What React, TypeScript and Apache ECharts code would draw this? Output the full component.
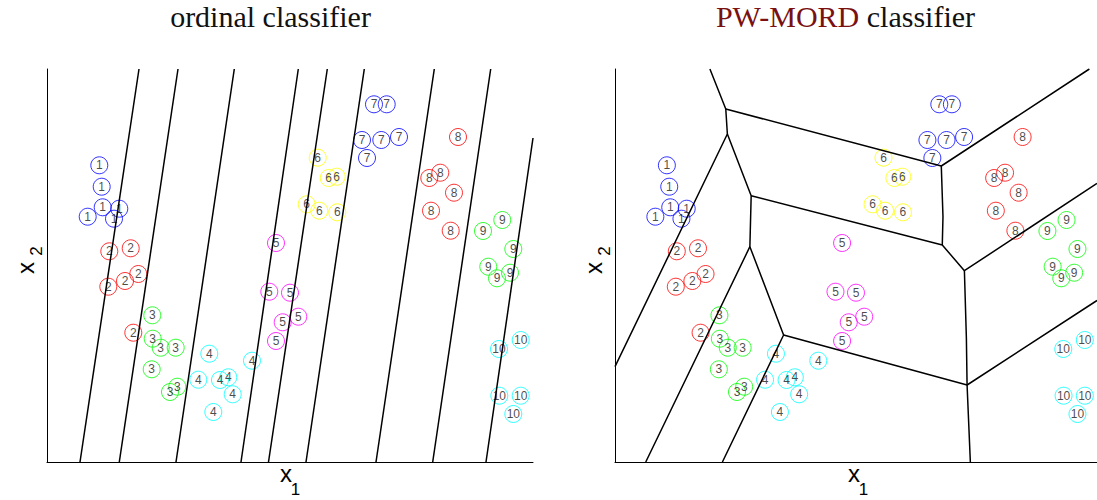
import React, { useEffect, useRef } from "react";
import * as echarts from "echarts";

// Feature space extent (both panels share the same units)
const X_MAX = 486;
const Y_MAX = 393;

// Training samples, one array per ordinal class: [x1, x2]
const class1 = [[52.3, 296.7], [54.7, 275.3], [55.7, 254.7], [40.7, 245.3], [72.3, 253.3], [67, 243.3]];
const class2 = [[62.3, 210.7], [83.7, 213.7], [61.3, 175.3], [78, 181], [91.3, 188], [86.3, 129.3]];
const class3 = [[105.3, 146.7], [105.7, 123.3], [113.7, 114.3], [128.7, 114.3], [104.7, 92.7], [130.3, 75.3], [123, 70]];
const class4 = [[162.3, 108.3], [205, 101.3], [151.3, 82.3], [173, 82], [181.3, 84.7], [185.7, 67.7], [166.3, 50]];
const class5 = [[229, 219], [222.3, 170.3], [243, 169.3], [251.3, 145.3], [235.7, 139.7], [229, 121]];
const class6 = [[270.7, 304.3], [281.7, 284], [289.7, 285.3], [259.7, 257.7], [272.3, 251.3], [290.3, 249.7]];
const class7 = [[327, 357.7], [339.7, 357.7], [315, 322], [334.3, 322], [352, 325], [320, 304]];
const class8 = [[411, 325], [393.3, 289.3], [382.3, 284], [407, 269.3], [384, 251.3], [403.7, 231.3]];
const class9 = [[455.3, 242], [436, 231], [466.3, 213], [441.3, 195.3], [450, 183.7], [463, 189.3]];
const class10 = [[473.7, 122], [452, 113], [452.3, 66.3], [473.7, 66.3], [466.3, 48]];

const classes = [class1, class2, class3, class4, class5, class6, class7, class8, class9, class10];
const classLabels = ["1", "2", "3", "4", "5", "6", "7", "8", "9", "10"];
const classColors = ["#0000ff", "#ff0000", "#00ff00", "#00ffff", "#ff00ff", "#ffff00", "#0000ff", "#ff0000", "#00ff00", "#00ffff"];

// Ordinal classifier: parallel threshold boundaries
const ordinalBoundaries = [
  [[33, 0], [92, 393]],
  [[72.3, 0], [131, 393]],
  [[129, 0], [187.3, 393]],
  [[194, 0], [251.3, 393]],
  [[221.5, 0], [280.3, 393]],
  [[259, 0], [317.3, 393]],
  [[329, 0], [387.3, 393]],
  [[385.7, 0], [443.7, 393]],
  [[439, 0], [486, 324]],
];

// PW-MORD piecewise boundary vertices
const vT1 = [95.7, 393];
const vA = [111.7, 353];
const vC = [113.3, 328];
const vL1 = [0, 95.3];
const vD = [137.3, 266.3];
const vF = [136, 215.3];
const vB1 = [31, 0];
const vG = [170, 127];
const vB2 = [108.3, 0];
const vH = [355, 77];
const vI = [352.3, 191.3];
const vImid = [354.3, 123.7];
const vB3 = [358.3, 0];
const vRH = [486, 161.5];
const vE = [330, 217];
const vRI = [486, 278.6];
const vB = [329, 296];
const vBmid = [330.7, 245.3];
const vTR = [478.3, 393];

const pwmordBoundaries = [
  [vT1, vA, vC, vL1],
  [vA, vB, vTR],
  [vB, vBmid, vE],
  [vC, vD, vF, vB1],
  [vD, vE, vI, vRI],
  [vF, vG, vB2],
  [vG, vH, vRH],
  [vI, vImid, vH, vB3],
];

function axisPair(gridIndex: number) {
  const base = {
    gridIndex,
    type: "value" as const,
    min: 0,
    axisLine: { show: true, onZero: false, lineStyle: { color: "#000", width: 1 } },
    axisTick: { show: false },
    axisLabel: { show: false },
    splitLine: { show: false },
  };
  return {
    x: { ...base, max: X_MAX },
    y: { ...base, max: Y_MAX },
  };
}

function scatterSeries(gridIndex: number) {
  return classes.map((pts, i) => ({
    type: "scatter",
    xAxisIndex: gridIndex,
    yAxisIndex: gridIndex,
    data: pts,
    symbol: "circle",
    symbolSize: 17,
    silent: true,
    itemStyle: { color: "rgba(255,255,255,0)", borderColor: classColors[i], borderWidth: 1 },
    label: {
      show: true,
      position: "inside",
      formatter: classLabels[i],
      color: "#1a1a1a",
      fontSize: 12,
      fontFamily: "Liberation Sans, Arial, sans-serif",
    },
    z: 2,
  }));
}

function boundarySeries(gridIndex: number, polylines: number[][][]) {
  return polylines.map((pl) => ({
    type: "line",
    xAxisIndex: gridIndex,
    yAxisIndex: gridIndex,
    data: pl,
    symbol: "none",
    silent: true,
    lineStyle: { color: "#000", width: 1.5 },
    z: 3,
  }));
}

const serif = "Liberation Serif, Times New Roman, serif";
const sans = "Liberation Sans, Arial, sans-serif";

function centered(text: string, font: string) {
  return { text, font, fill: "#000", align: "center", verticalAlign: "middle", textAlign: "center", textVerticalAlign: "middle" };
}

function axisNames(offsetX: number) {
  return [
    { type: "text", x: 286 + offsetX, y: 473, style: centered("x", `24px ${sans}`) },
    { type: "text", x: 295.5 + offsetX, y: 489, style: centered("1", `17px ${sans}`) },
    { type: "text", x: 25 + offsetX, y: 268, rotation: Math.PI / 2, style: centered("x", `24px ${sans}`) },
    { type: "text", x: 36 + offsetX, y: 251, rotation: Math.PI / 2, style: centered("2", `17px ${sans}`) },
  ];
}

export default function App() {
  const ref = useRef<HTMLDivElement>(null);

  useEffect(() => {
    if (!ref.current) return;
    const chart = echarts.init(ref.current, undefined, { renderer: "svg" });
    const a0 = axisPair(0);
    const a1 = axisPair(1);
    chart.setOption({
      animation: false,
      backgroundColor: "#fff",
      grid: [
        { left: 47, top: 69, width: 486, height: 393 },
        { left: 615, top: 69, width: 486, height: 393 },
      ],
      xAxis: [a0.x, a1.x],
      yAxis: [a0.y, a1.y],
      series: [
        ...scatterSeries(0),
        ...boundarySeries(0, ordinalBoundaries),
        ...scatterSeries(1),
        ...boundarySeries(1, pwmordBoundaries),
      ],
      graphic: [
        {
          type: "text",
          x: 270.5,
          y: 16,
          style: { ...centered("ordinal classifier", `30px ${serif}`), fill: "#111" },
        },
        {
          type: "text",
          x: 845.5,
          y: 16,
          style: {
            ...centered("{a|PW-MORD} {b|classifier}", `30px ${serif}`),
            fill: "#111",
            rich: {
              a: { fill: "#7a1010", color: "#7a1010", font: `30px ${serif}`, fontSize: 30, fontFamily: serif },
              b: { fill: "#111", color: "#111", font: `30px ${serif}`, fontSize: 30, fontFamily: serif },
            },
          },
        },
        ...axisNames(0),
        ...axisNames(568),
      ],
    });
    return () => chart.dispose();
  }, []);

  return (
    <div
      ref={ref}
      style={{ position: "absolute", left: 0, top: 0, width: 1097, height: 500, background: "#fff" }}
    />
  );
}
